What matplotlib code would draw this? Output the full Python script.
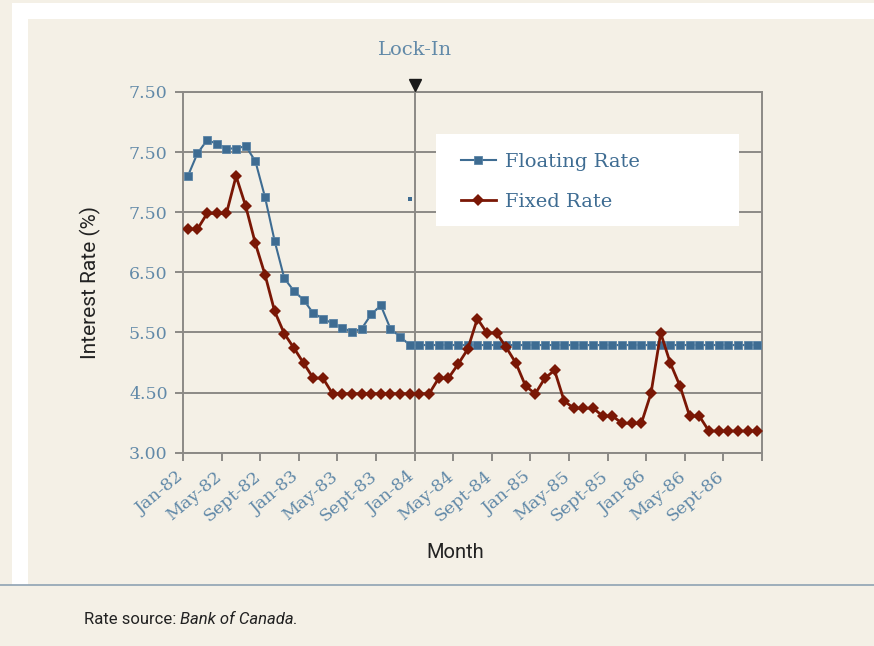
import numpy as np
import matplotlib.pyplot as plt
from matplotlib.patches import Rectangle
from matplotlib.lines import Line2D
from matplotlib.transforms import ScaledTranslation, offset_copy


MONTH_NAMES = ["Jan", "Feb", "Mar", "Apr", "May", "June",
               "July", "Aug", "Sept", "Oct", "Nov", "Dec"]
months = [f"{m}-{y}" for y in range(82, 87) for m in MONTH_NAMES]

# rates, one value per month (Jan-82 .. Dec-86)
floating_rate = [8.10, 8.48, 8.70, 8.64, 8.56, 8.56, 8.60, 8.35, 7.75, 7.02,
                 6.40, 6.19, 6.04, 5.82, 5.73, 5.65, 5.58, 5.51, 5.56, 5.80,
                 5.95, 5.56, 5.43, 5.29, 5.29, 5.29, 5.29, 5.29, 5.29, 5.29,
                 5.29, 5.29, 5.29, 5.29, 5.29, 5.29, 5.29, 5.29, 5.29, 5.29,
                 5.29, 5.29, 5.29, 5.29, 5.29, 5.29, 5.29, 5.29, 5.29, 5.29,
                 5.29, 5.29, 5.29, 5.29, 5.29, 5.29, 5.29, 5.29, 5.29, 5.29]
fixed_rate = [7.22, 7.22, 7.48, 7.48, 7.48, 8.10, 7.60, 6.98, 6.46, 5.85,
              5.48, 5.24, 4.99, 4.74, 4.74, 4.48, 4.48, 4.48, 4.48, 4.48,
              4.48, 4.48, 4.48, 4.48, 4.48, 4.48, 4.74, 4.74, 4.97, 5.22,
              5.73, 5.49, 5.49, 5.25, 4.99, 4.61, 4.48, 4.74, 4.87, 4.36,
              4.24, 4.24, 4.24, 4.11, 4.11, 3.99, 3.99, 3.99, 4.49, 5.49,
              4.99, 4.61, 4.11, 4.11, 3.86, 3.86, 3.86, 3.86, 3.86, 3.86]

# the lone floating-rate dot just before the lock-in
stray_month = ["Dec-83"]
stray_rate = [7.72]

lock_in_month = "Jan-84"

y_ticks = [3.5, 4.5, 5.5, 6.5, 7.5, 8.5, 9.5]
y_tick_labels = ["3.00", "4.50", "5.50", "6.50", "7.50", "7.50", "7.50"]

CREAM = "#f4f0e6"
BLUE = "#3e6c92"
RED = "#7a1705"
LABEL_BLUE = "#6189a8"
GRID = "#8c8a86"
SERIF = "DejaVu Serif"
NARROW = "Roboto"

W, H = 874, 646
fig = plt.figure(figsize=(W / 100, H / 100), dpi=100)
fig.patch.set_facecolor(CREAM)


def fx(px):
    return px / W


def fy(py):
    return 1 - py / H


# white frame strip and the cream panel inside
fig.patches.append(Rectangle((fx(12), fy(585)), fx(862), fy(3) - fy(585),
                             transform=fig.transFigure, facecolor="white",
                             edgecolor="none", zorder=-2))
fig.patches.append(Rectangle((fx(28), fy(585)), fx(846), fy(19) - fy(585),
                             transform=fig.transFigure, facecolor=CREAM,
                             edgecolor="none", zorder=-1))
fig.lines.append(Line2D([0, 1], [fy(585), fy(585)], transform=fig.transFigure,
                        color="#8fa2b3", linewidth=1.2))

ax = fig.add_axes([fx(183), fy(452.7), fx(762 - 183), fy(92) - fy(452.7)])
ax.set_zorder(2)
ax.set_facecolor(CREAM)

x = np.arange(len(months))
ax.plot(x, floating_rate, color=BLUE, marker="s", markersize=5.5,
        markeredgecolor="#5a84a6", markeredgewidth=0.6, linewidth=1.5,
        label="Floating Rate", zorder=4)
ax.plot(x, fixed_rate, color=RED, marker="D", markersize=6.5,
        markeredgewidth=0, linewidth=2.0, label="Fixed Rate", zorder=5)
stray_x = [months.index(m) for m in stray_month]
ax.plot(stray_x, stray_rate, linestyle="none", marker="s", markersize=2.2,
        color=BLUE, markeredgewidth=0, zorder=4)

ax.set_xlim(-0.5, len(months) - 0.5)
ax.set_ylim(y_ticks[0], y_ticks[-1])

# gridlines and frame
for yv in y_ticks:
    ax.axhline(yv, color=GRID, linewidth=1.4, zorder=1)
for side in ["top", "right", "left", "bottom"]:
    ax.spines[side].set_color(GRID)
    ax.spines[side].set_linewidth(1.4)

# lock-in marker
lock_x = months.index(lock_in_month) - 0.5
ax.axvline(lock_x, color=GRID, linewidth=1.4, zorder=2)
ax.plot([lock_x], [y_ticks[-1]], marker="v", markersize=9, color="#1a1a1a",
        clip_on=False, zorder=6,
        transform=offset_copy(ax.transData, fig=fig, y=7, units="dots"))
ax.annotate("Lock-In", xy=(lock_x, y_ticks[-1]), xytext=(0, 30),
            textcoords="offset points", ha="center", va="center",
            fontsize=14, color=LABEL_BLUE, family=SERIF, annotation_clip=False)

# y axis
ax.set_yticks(y_ticks)
ax.set_yticklabels(y_tick_labels)
ax.tick_params(axis="y", length=6, width=1.4, color=GRID, pad=5,
               labelsize=12.5, labelcolor=LABEL_BLUE)
for lab in ax.get_yticklabels():
    lab.set_family(SERIF)

# x axis: tick marks between months, a label every fourth month
ax.set_xticks(np.arange(-0.5, len(months), 4))
ax.set_xticklabels([])
ax.tick_params(axis="x", which="major", length=6, width=1.4, color=GRID)
ax.set_xticks(x[::4], minor=True)
ax.set_xticklabels(months[::4], minor=True, rotation=40, ha="right",
                   va="top", rotation_mode="anchor", family=SERIF)
ax.tick_params(axis="x", which="minor", length=0, pad=11, labelsize=12.6,
               labelcolor=LABEL_BLUE)
shift = ScaledTranslation(-12 / 100, 0, fig.dpi_scale_trans)
for lab in ax.get_xticklabels(minor=True):
    lab.set_transform(lab.get_transform() + shift)

ax.set_ylabel("Interest Rate (%)", family=NARROW, fontsize=15, color="#222222")
ax.yaxis.set_label_coords(-0.141, 0.472)
fig.text(fx(455), fy(552), "Month", family=NARROW, fontsize=14.5,
         color="#222222", ha="center", va="center")

# legend on a white box
ax.add_patch(Rectangle((fx(436), fy(226)), fx(303), fy(134) - fy(226),
                       transform=fig.transFigure, facecolor="white",
                       edgecolor="none", zorder=3, clip_on=False))
leg = ax.legend(loc="center left", bbox_to_anchor=(fx(443), fy(182)),
                bbox_transform=fig.transFigure, frameon=False,
                prop={"family": SERIF, "size": 14}, labelcolor=BLUE,
                handlelength=1.8, handletextpad=0.5, labelspacing=1.1)
leg.set_zorder(7)

src = fig.text(fx(84), fy(620), "Rate source: ", family=NARROW, fontsize=12,
               color="#222222", ha="left", va="center")
fig.canvas.draw()
src_end = src.get_window_extent().x1 / W
fig.text(src_end, fy(620), "Bank of Canada.", family=NARROW, fontsize=12,
         style="italic", color="#222222", ha="left", va="center")

fig.savefig("out.png", dpi=100, facecolor=CREAM)
